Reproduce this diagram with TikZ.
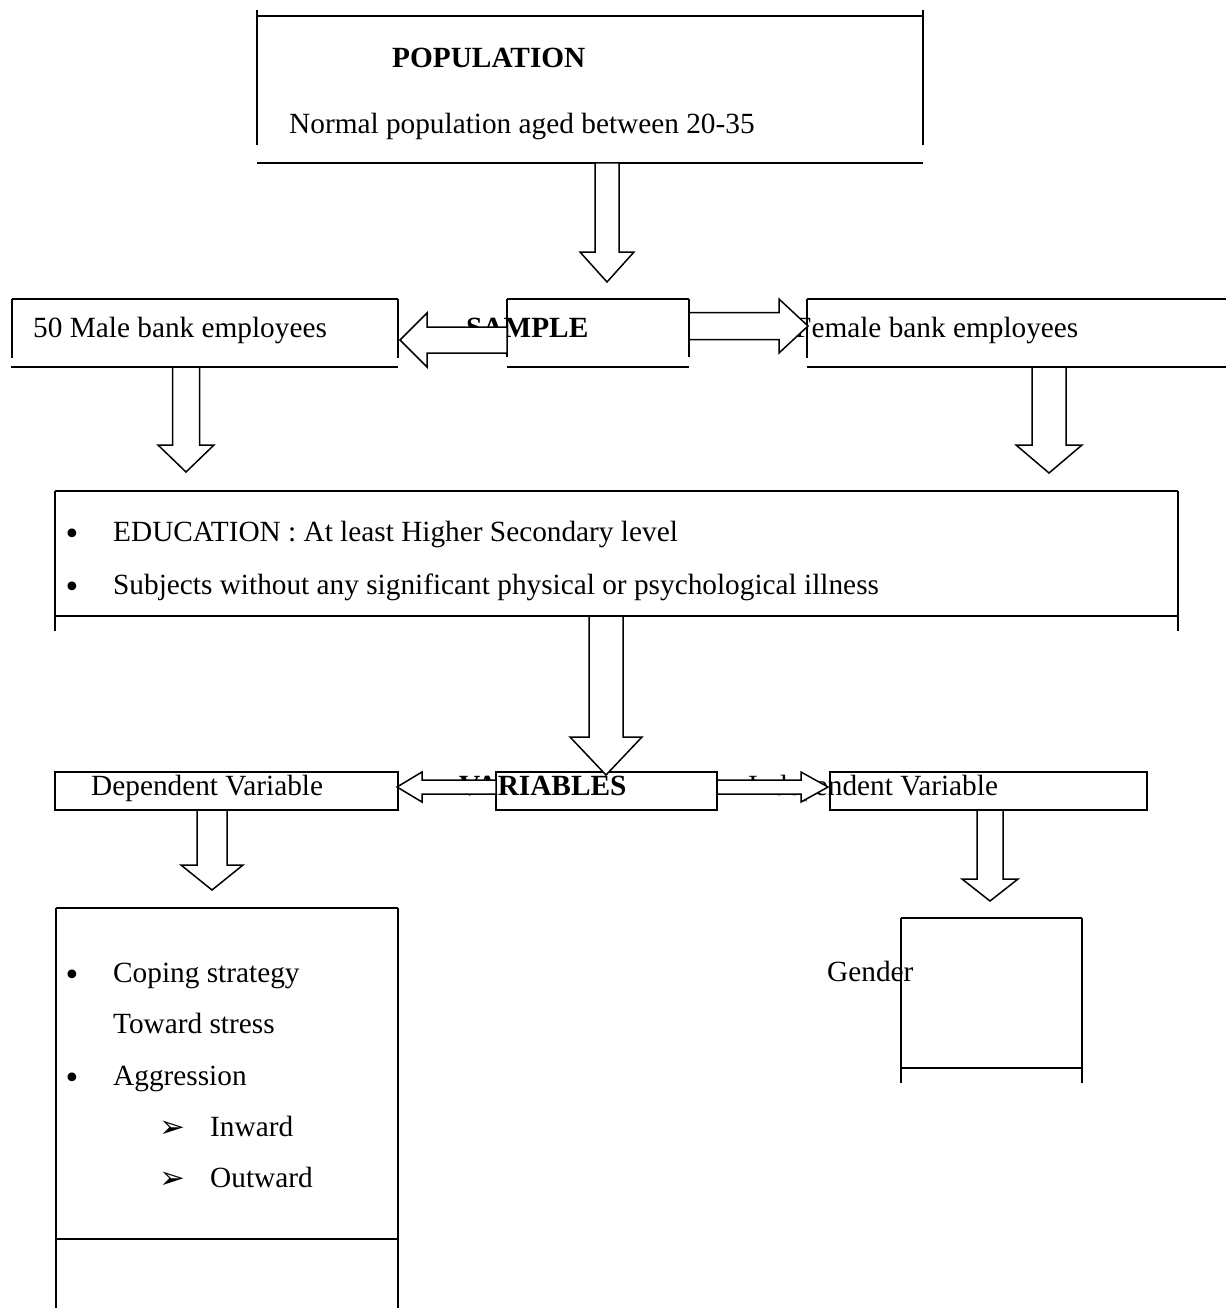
\documentclass[tikz,border=0pt]{standalone}
\usepackage{fontspec}
\setmainfont{Liberation Serif}
\newfontfamily\dejavu{DejaVu Sans}
\usetikzlibrary{calc}
\tikzset{
  frame/.style={draw, line width=1.6pt},
  blockarr/.style={draw, line width=1.5pt, fill=white, line join=miter},
  txt/.style={inner sep=0pt, anchor=base west, font=\fontsize{29.3}{34}\selectfont},
  btxt/.style={inner sep=0pt, anchor=base west, font=\fontsize{29.3}{34}\selectfont\bfseries},
  bul/.style={inner sep=0pt, anchor=center, font=\fontsize{30}{34}\dejavu},
  arrbul/.style={inner sep=0pt, anchor=center, font=\fontsize{31}{36}\dejavu},
}
\newcommand{\blockarrow}[5]{%
  \coordinate (bacc) at ($(#2)!#5!(#1)$);
  \draw[blockarr] ($(#1)!#3!90:(#2)$) -- ($(bacc)!#3!90:(#2)$) -- ($(bacc)!#4!90:(#2)$) -- (#2)
    -- ($(bacc)!#4!-90:(#2)$) -- ($(bacc)!#3!-90:(#2)$) -- ($(#1)!#3!-90:(#2)$) -- cycle;}
\begin{document}
\begin{tikzpicture}[x=1pt,y=-1pt]
\useasboundingbox[fill=white] (0,0) rectangle (1226,1308);

% ---- box frames ----
% Population
\draw[frame] (257,16) -- (923,16);
\draw[frame] (257,10) -- (257,145);
\draw[frame] (923,10) -- (923,145);
\draw[frame] (257,163) -- (923,163);
% Male
\draw[frame] (12,299) -- (398,299);
\draw[frame] (12,299) -- (12,358);
\draw[frame] (398,299) -- (398,358);
\draw[frame] (11,367) -- (398,367);
% Sample
\draw[frame] (507,299) -- (689,299);
\draw[frame] (507,299) -- (507,357);
\draw[frame] (689,299) -- (689,357);
\draw[frame] (507,367) -- (689,367);
% Female
\draw[frame] (807,299) -- (1226,299);
\draw[frame] (807,299) -- (807,358);
\draw[frame] (807,367) -- (1226,367);
% Education
\draw[frame] (55,491) -- (1178,491);
\draw[frame] (55,491) -- (55,631);
\draw[frame] (1178,491) -- (1178,631);
\draw[frame] (55,616) -- (1178,616);
% Variables row
\draw[frame] (55,772) rectangle (398,810);
\draw[frame] (496,772) rectangle (717,810);
\draw[frame] (830,772) rectangle (1147,810);
% Coping box
\draw[frame] (56,908) -- (398,908);
\draw[frame] (56,908) -- (56,1308);
\draw[frame] (398,908) -- (398,1308);
\draw[frame] (56,1239) -- (398,1239);
% Gender box
\draw[frame] (901,918) -- (1082,918);
\draw[frame] (901,918) -- (901,1083);
\draw[frame] (1082,918) -- (1082,1083);
\draw[frame] (901,1068) -- (1082,1068);

% ---- texts ----
\node[btxt] (popt) at (392,68) {POPULATION};
\node[txt] (popd) at (289,134) {Normal population aged between 20-35};
\node[txt] (male) at (33,337) {50 Male bank employees};
\node[btxt] (samp) at (466,337) {SAMPLE};
\node[txt] (fem) at (795,337) {Female bank employees};
\node[bul] (eb1) at (72,537) {•};
\node[txt] (edu1) at (113,541) {EDUCATION : At least Higher Secondary level};
\node[bul] (eb2) at (72,590) {•};
\node[txt] (edu2) at (113,594) {Subjects without any significant physical or psychological illness};
\node[txt] (dep) at (91,795) {Dependent Variable};
\node[btxt] (var) at (459,795) {VARIABLES};
\node[txt] (ind) at (748,795) {Independent Variable};
\node[txt] (gen) at (827,981) {Gender};
\node[bul] (cb1) at (72,978) {•};
\node[txt] (cop1) at (113,982) {Coping strategy};
\node[txt] (cop2) at (113,1033) {Toward stress};
\node[bul] (cb2) at (72,1081) {•};
\node[txt] (agg) at (113,1085) {Aggression};
\node[arrbul] (ab1) at (172,1129) {➢};
\node[txt] (inw) at (210,1136) {Inward};
\node[arrbul] (ab2) at (172,1180) {➢};
\node[txt] (outw) at (210,1187) {Outward};

% ---- block arrows ----
\coordinate (popS) at (607,163);   \coordinate (sampN) at (607,282);
\coordinate (sampW) at (507,340);  \coordinate (maleE) at (400,340);
\coordinate (sampE) at (689,326);  \coordinate (femW) at (808,326);
\coordinate (maleS) at (186,367);  \coordinate (eduNW) at (186,472);
\coordinate (femS) at (1049,367);  \coordinate (eduNE) at (1049,473);
\coordinate (eduS) at (606,616);   \coordinate (varN) at (606,775);
\coordinate (varW) at (496,787);   \coordinate (depE) at (397,787);
\coordinate (varE) at (717,787);   \coordinate (indW) at (828,787);
\coordinate (depS) at (212,810);   \coordinate (copN) at (212,890);
\coordinate (indS) at (990,810);   \coordinate (genN) at (990,901);

\blockarrow{popS}{sampN}{12pt}{27pt}{30pt}
\blockarrow{sampW}{maleE}{13pt}{27pt}{27pt}
\blockarrow{sampE}{femW}{13.5pt}{27pt}{29pt}
\blockarrow{maleS}{eduNW}{13.5pt}{28pt}{27pt}
\blockarrow{femS}{eduNE}{17pt}{33pt}{28pt}
\blockarrow{eduS}{varN}{17pt}{36pt}{38pt}
\blockarrow{varW}{depE}{7pt}{15pt}{25pt}
\blockarrow{varE}{indW}{7pt}{15pt}{27pt}
\blockarrow{depS}{copN}{15pt}{31pt}{25pt}
\blockarrow{indS}{genN}{13pt}{28pt}{22pt}
\end{tikzpicture}
\end{document}
